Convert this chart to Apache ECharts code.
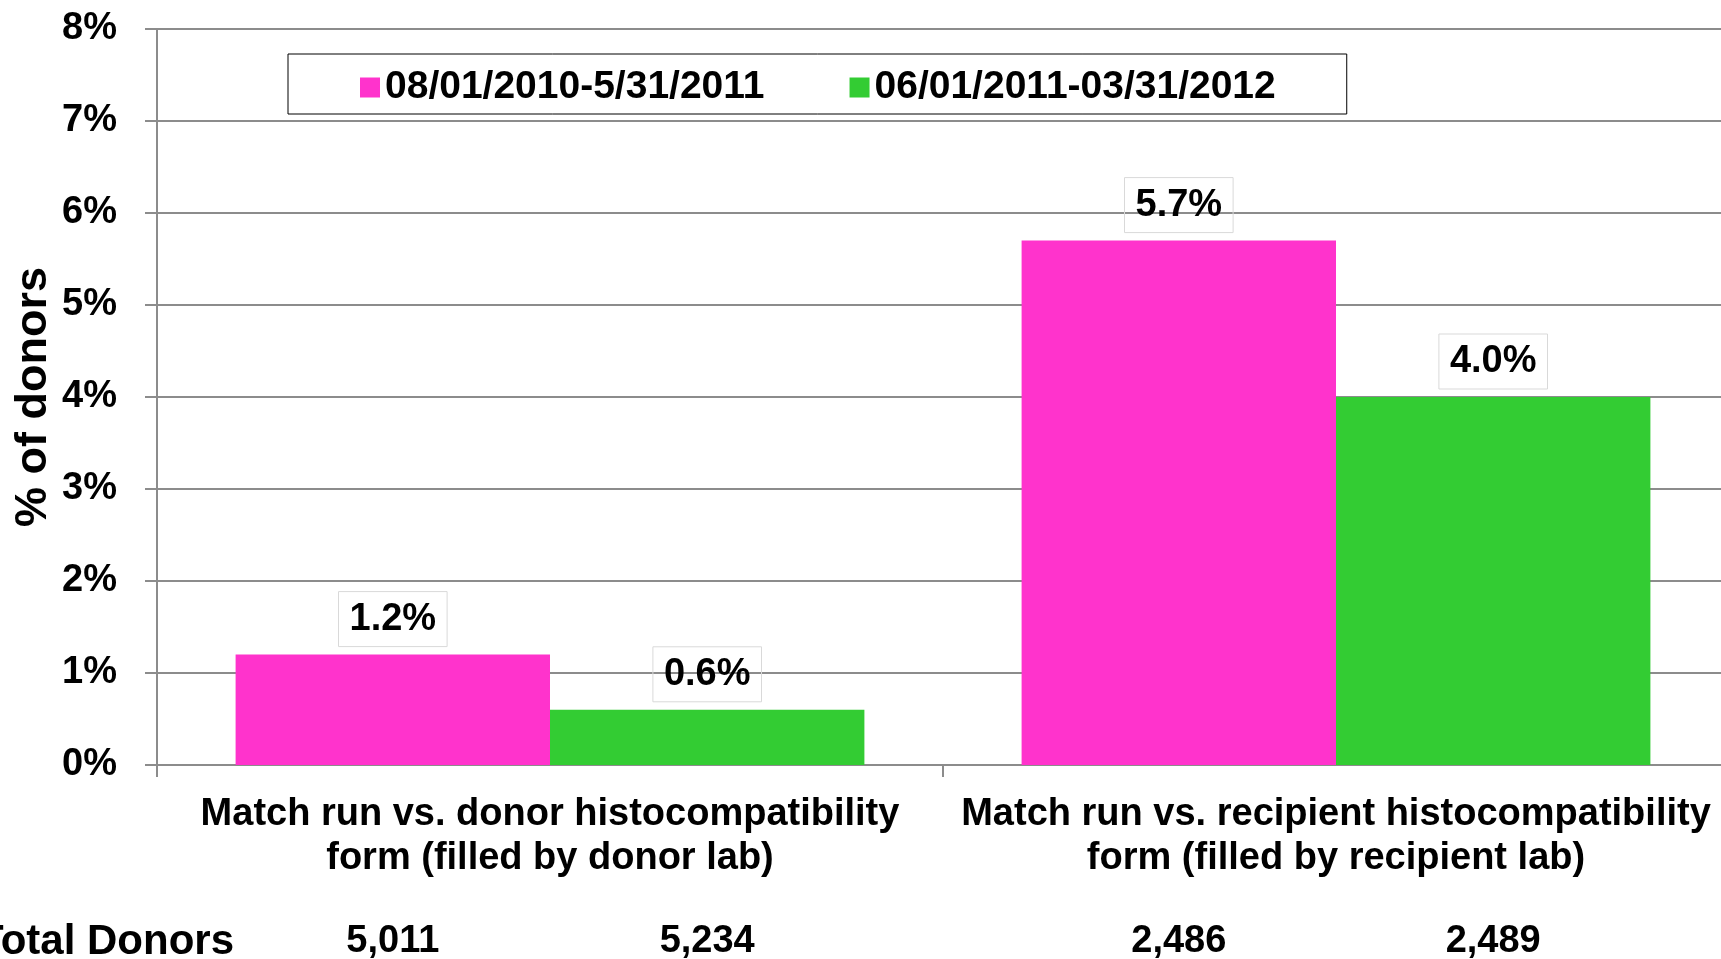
<!DOCTYPE html>
<html>
<head>
<meta charset="utf-8">
<script src="https://cdn.jsdelivr.net/npm/echarts@6/dist/echarts.min.js"></script>
<style>
  html, body { margin: 0; padding: 0; background: #fff; }
  #chart { width: 1721px; height: 959px; }
</style>
</head>
<body>
<div id="chart"></div>
<script>
const categories = [
  'Match run vs. donor histocompatibility\nform (filled by donor lab)',
  'Match run vs. recipient histocompatibility\nform (filled by recipient lab)'
];
const seriesNames = ['08/01/2010-5/31/2011', '06/01/2011-03/31/2012'];
const period1Values = [1.2, 5.7];
const period2Values = [0.6, 4.0];
const period1Totals = [5011, 2486];
const period2Totals = [5234, 2489];
const totalsLabel = 'Total Donors';
const yMin = 0, yMax = 8, yInterval = 1;

const FONT = '"Liberation Sans", Arial, sans-serif';
const GRAY = '#8c8c8c';
const colors = ['#ff33cc', '#33cc33'];

const chart = echarts.init(document.getElementById('chart'));

const labelStyle = {
  show: true,
  position: 'top',
  distance: 8,
  formatter: p => p.value.toFixed(1) + '%',
  fontFamily: FONT,
  fontWeight: 'bold',
  fontSize: 38,
  color: '#000',
  borderColor: '#d9d9d9',
  borderWidth: 1,
  padding: [9, 11, 8, 11]
};

chart.setOption({
  animation: false,
  backgroundColor: '#fff',
  grid: { left: 157, top: 29, width: 1572, height: 736, containLabel: false, outerBoundsMode: 'none' },
  legend: {
    left: 288,
    top: 54,
    data: seriesNames,
    icon: 'rect',
    itemWidth: 20,
    itemHeight: 20,
    itemGap: 85,
    borderColor: '#000',
    borderWidth: 1,
    padding: [14, 71, 7, 72],
    textStyle: { fontFamily: FONT, fontWeight: 'bold', fontSize: 39, color: '#000' }
  },
  xAxis: {
    type: 'category',
    data: categories,
    axisLine: { lineStyle: { color: GRAY, width: 2 } },
    axisTick: { show: true, length: 12, lineStyle: { color: GRAY, width: 2 } },
    axisLabel: {
      margin: 28,
      interval: 0,
      fontFamily: FONT,
      fontWeight: 'bold',
      fontSize: 38,
      lineHeight: 44,
      color: '#000'
    }
  },
  yAxis: {
    type: 'value',
    min: yMin,
    max: yMax,
    interval: yInterval,
    name: '% of donors',
    nameLocation: 'middle',
    nameGap: 101,
    nameMoveOverlap: false,
    nameTextStyle: { fontFamily: FONT, fontWeight: 'bold', fontSize: 45, color: '#000' },
    axisLine: { show: true, lineStyle: { color: GRAY, width: 2 } },
    axisTick: { show: true, length: 12, lineStyle: { color: GRAY, width: 2 } },
    splitLine: { show: true, lineStyle: { color: GRAY, width: 2 } },
    axisLabel: {
      margin: 40,
      formatter: '{value}%',
      fontFamily: FONT,
      fontWeight: 'bold',
      fontSize: 38,
      color: '#000'
    }
  },
  series: [
    {
      name: seriesNames[0],
      type: 'bar',
      data: period1Values,
      barGap: '0%',
      barCategoryGap: '20%',
      itemStyle: { color: colors[0] },
      label: labelStyle
    },
    {
      name: seriesNames[1],
      type: 'bar',
      data: period2Values,
      barGap: '0%',
      barCategoryGap: '20%',
      itemStyle: { color: colors[1] },
      label: labelStyle
    }
  ]
});

// Totals row under each bar, positioned from the bar layout
const totalsBySeries = [period1Totals, period2Totals];
const graphics = [];
const textY = 942;
const txtStyle = { fontFamily: FONT, fontWeight: 'bold', fontSize: 38, fill: '#000' };
graphics.push({
  type: 'text',
  style: Object.assign({}, txtStyle, { text: totalsLabel, x: 234, y: textY, fontSize: 42, textAlign: 'right', textVerticalAlign: 'middle' })
});
const ecModel = chart.getModel();
totalsBySeries.forEach((totals, si) => {
  const data = ecModel.getSeriesByIndex(si).getData();
  totals.forEach((t, i) => {
    const lay = data.getItemLayout(i);
    const cx = lay.x + lay.width / 2;
    graphics.push({
      type: 'text',
      style: Object.assign({}, txtStyle, { text: t.toLocaleString('en-US'), x: cx, y: textY, textAlign: 'center', textVerticalAlign: 'middle' })
    });
  });
});
chart.setOption({ graphic: graphics });
</script>
</body>
</html>
